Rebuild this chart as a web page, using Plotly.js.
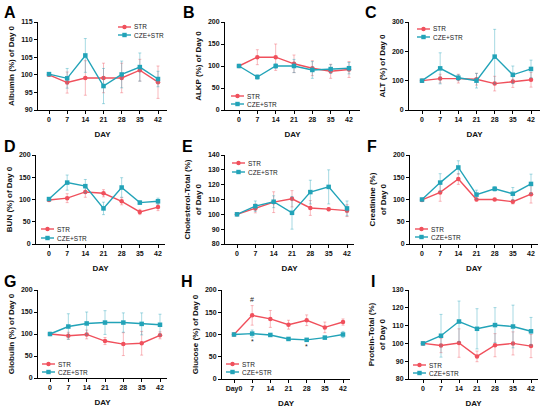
<!DOCTYPE html>
<html>
<head>
<meta charset="utf-8">
<script src="https://cdn.plot.ly/plotly-3.0.1.min.js"></script>
<style>html,body{margin:0;padding:0;background:#fff;}#chart{width:550px;height:408px;}</style>
</head>
<body>
<div id="chart"></div>
<script>
// ---------- data ----------
const days = [0, 7, 14, 21, 28, 35, 42];
const dayTickText = ['0', '7', '14', '21', '28', '35', '42'];
const glucoseTickText = ['Day0', '7', '14', '21', '28', '35', '42'];
const seriesNames = ['STR', 'CZE+STR'];

const albuminSTR = [100, 97.8, 99.1, 99.1, 99.1, 101.3, 97.9];
const albuminSTRErr = [0.3, 3.0, 4.9, 4.2, 4.2, 3.1, 4.6];
const albuminCZE = [100.2, 99.0, 105.5, 96.8, 100.1, 102.2, 98.8];
const albuminCZEErr = [0.3, 2.8, 4.8, 5.0, 3.8, 4.0, 2.2];

const alkpSTR = [100, 120, 120, 105, 95, 88, 92];
const alkpSTRErr = [1, 17, 30, 20, 17, 16, 18];
const alkpCZE = [100, 75, 100, 100, 91, 93, 95];
const alkpCZEErr = [1, 5, 5, 15, 19, 10, 13];

const altSTR = [100, 107, 107, 105, 90, 97, 103];
const altSTRErr = [3, 15, 15, 20, 25, 20, 25];
const altCZE = [100, 142, 110, 100, 182, 120, 140];
const altCZEErr = [3, 53, 10, 25, 93, 30, 30];

const bunSTR = [99, 103, 117, 114, 96, 72, 83];
const bunSTRErr = [2, 10, 12, 8, 8, 6, 8];
const bunCZE = [101, 138, 130, 80, 127, 93, 96];
const bunCZEErr = [2, 17, 15, 14, 22, 4, 7];

const cholSTR = [100, 104, 108.2, 110.5, 104.3, 103.5, 102.5];
const cholSTRErr = [0.5, 3, 7, 5.5, 5, 1, 4];
const cholCZE = [100, 105.5, 108.5, 101, 115, 118.5, 104];
const cholCZEErr = [0.5, 3.5, 4, 11, 8, 11.5, 5];

const creatSTR = [99, 116, 146, 100, 100, 95, 112];
const creatSTRErr = [2, 20, 12, 3, 2, 5, 20];
const creatCZE = [100, 138, 172, 111, 124, 113, 135];
const creatCZEErr = [2, 20, 15, 10, 5, 14, 22];

const globSTR = [100, 96, 99, 84, 77, 79, 97];
const globSTRErr = [2, 8, 10, 8, 26, 27, 8];
const globCZE = [100, 117, 124, 126, 126, 123, 121];
const globCZEErr = [2, 29, 26, 27, 22, 25, 24];

const glucSTR = [100, 143, 135, 122, 132, 116, 128];
const glucSTRErr = [2, 22, 19, 10, 12, 12, 7];
const glucCZE = [100, 102, 99, 90, 88, 93, 100];
const glucCZEErr = [2, 8, 3, 3, 3, 3, 7];

const protSTR = [100, 98.8, 100.2, 92.7, 99, 100, 98.5];
const protSTRErr = [0.5, 4, 8, 3, 6.5, 6.5, 6.5];
const protCZE = [100, 104.3, 112.3, 108.2, 110.3, 109.5, 106.8];
const protCZEErr = [0.5, 12, 11.5, 11.3, 9.8, 12, 7.8];

// significance marks in panel H
const glucMarkDays = [7, 7, 28];
const glucMarkValues = [178, 84, 72];
const glucMarkText = ['#', '*', '*'];

// ---------- style / layout ----------
const W = 550, H = 408;
const FONT = 'Liberation Sans, Arial, sans-serif';
const RED = '#F0505C', TEAL = '#22A3B8';
const RED_ERR = 'rgba(240,80,92,0.4)', TEAL_ERR = 'rgba(34,163,184,0.4)';
const px = p => p / W;
const py = p => 1 - p / H;

// box: [axisLeft, axisRight, tick0px, tick42px, topPx, bottomPx]
const panels = [
  {letter:'A', lp:[10,12], s:albuminSTR, se:albuminSTRErr, c:albuminCZE, ce:albuminCZEErr, box:[38,167,49,158,22,110], yr:[90,115], dt:5, yt:'Albumin (%) of Day 0', tt:dayTickText, leg:[118,27,35]},
  {letter:'B', lp:[189,12], s:alkpSTR, se:alkpSTRErr, c:alkpCZE, ce:alkpCZEErr, box:[225,360,239,349,22,110], yr:[0,200], dt:50, yt:'ALKP (%) of Day 0', tt:dayTickText, leg:[231,96,104]},
  {letter:'C', lp:[371,12], s:altSTR, se:altSTRErr, c:altCZE, ce:altCZEErr, box:[409,540,422,531,22,110], yr:[0,300], dt:100, yt:'ALT (%) of Day 0', tt:dayTickText, leg:[417,29,37]},
  {letter:'D', lp:[10,146], s:bunSTR, se:bunSTRErr, c:bunCZE, ce:bunCZEErr, box:[36,165,49,158,155,244], yr:[0,200], dt:50, yt:'BUN (%) of Day 0', tt:dayTickText, leg:[41,229,238]},
  {letter:'E', lp:[187,146], s:cholSTR, se:cholSTRErr, c:cholCZE, ce:cholCZEErr, box:[225,354,237,347,155,244], yr:[80,140], dt:10, yt:'Cholesterol-Total (%)<br>of Day 0', tt:dayTickText, leg:[232,163,172]},
  {letter:'F', lp:[372,146], s:creatSTR, se:creatSTRErr, c:creatCZE, ce:creatCZEErr, box:[410,538,422,531,155,244], yr:[0,200], dt:50, yt:'Creatinine (%)<br>of Day 0', tt:dayTickText, leg:[415,229,237]},
  {letter:'G', lp:[10,281], s:globSTR, se:globSTRErr, c:globCZE, ce:globCZEErr, box:[38,167,50,160,290,378], yr:[0,200], dt:50, yt:'Globulin (%) of Day 0', tt:dayTickText, leg:[42,364,372]},
  {letter:'H', lp:[187,281], s:glucSTR, se:glucSTRErr, c:glucCZE, ce:glucCZEErr, box:[222,350,234,343,290,379], yr:[0,200], dt:50, yt:'Glucose (%) of Day 0', tt:glucoseTickText, leg:[226,364,372]},
  {letter:'I', lp:[373,281], s:protSTR, se:protSTRErr, c:protCZE, ce:protCZEErr, box:[409,538,423,531,290,379], yr:[80,130], dt:10, yt:'Protein-Total (%)<br>of Day 0', tt:dayTickText, leg:[413,365,373]}
];

const traces = [];
const layout = {
  width: W, height: H,
  margin: {l:0, r:0, t:0, b:0},
  paper_bgcolor: '#fff', plot_bgcolor: '#fff',
  showlegend: false,
  font: {family: FONT, color: '#111'},
  annotations: [], shapes: []
};

panels.forEach((p, i) => {
  const n = i + 1;
  const sfx = n === 1 ? '' : String(n);
  const [L, R, t0, t42, T, B] = p.box;
  const u = (t42 - t0) / 42;
  const xr = [-(t0 - L) / u, 42 + (R - t42) / u];

  layout['xaxis' + sfx] = {
    domain: [px(L), px(R)], anchor: 'y' + sfx, range: xr,
    tickvals: days, ticktext: p.tt,
    showline: true, linecolor: '#000', linewidth: 1,
    ticks: 'outside', ticklen: 3, tickwidth: 1, tickcolor: '#000',
    showgrid: false, zeroline: false,
    tickfont: {size: 7, family: FONT, weight: 'bold', color: '#111'},
    title: {text: 'DAY', font: {size: 8, family: FONT, weight: 'bold', color: '#111'}, standoff: 8}
  };
  layout['yaxis' + sfx] = {
    domain: [py(B), py(T)], anchor: 'x' + sfx, range: p.yr, dtick: p.dt, tick0: p.yr[0],
    showline: true, linecolor: '#000', linewidth: 1,
    ticks: 'outside', ticklen: 3, tickwidth: 1, tickcolor: '#000',
    showgrid: false, zeroline: false,
    tickfont: {size: 7, family: FONT, weight: 'bold', color: '#111'},
    title: {text: p.yt, font: {size: 8, family: FONT, weight: 'bold', color: '#111'}, standoff: 5}
  };

  const series = [
    {y: p.s, e: p.se, col: RED, ecol: RED_ERR, sym: 'circle', name: seriesNames[0]},
    {y: p.c, e: p.ce, col: TEAL, ecol: TEAL_ERR, sym: 'square', name: seriesNames[1]}
  ];
  series.forEach(s => {
    traces.push({
      type: 'scatter', mode: 'lines+markers', x: days, y: s.y, name: s.name,
      xaxis: 'x' + sfx, yaxis: 'y' + sfx, cliponaxis: false,
      line: {color: s.col, width: 1.4},
      marker: {color: s.col, size: 4.5, symbol: s.sym},
      error_y: {type: 'data', array: s.e, visible: true, color: s.ecol, thickness: 1, width: 1.5}
    });
  });

  // panel letter
  layout.annotations.push({
    xref: 'paper', yref: 'paper', x: px(p.lp[0]), y: py(p.lp[1]),
    text: p.letter, showarrow: false, xanchor: 'center', yanchor: 'middle',
    font: {size: 16, family: FONT, weight: 'bold', color: '#000'}
  });

  // legend (drawn as small key)
  const [sx, y1, y2] = p.leg;
  [[y1, series[0]], [y2, series[1]]].forEach(([yy, s]) => {
    layout.shapes.push({type: 'line', xref: 'paper', yref: 'paper',
      x0: px(sx), x1: px(sx + 13), y0: py(yy), y1: py(yy), line: {color: s.col, width: 1.4}});
    layout.shapes.push({type: s.sym === 'circle' ? 'circle' : 'rect', xref: 'paper', yref: 'paper',
      xsizemode: 'pixel', ysizemode: 'pixel', xanchor: px(sx + 6.5), yanchor: py(yy),
      x0: -2.2, x1: 2.2, y0: -2.2, y1: 2.2, fillcolor: s.col, line: {width: 0}});
    layout.annotations.push({xref: 'paper', yref: 'paper', x: px(sx + 15), y: py(yy),
      text: s.name, showarrow: false, xanchor: 'left', yanchor: 'middle',
      borderpad: 0, font: {size: 6.5, family: FONT, color: '#222'}});
  });
});

// significance marks in H (8th panel)
glucMarkDays.forEach((d, k) => {
  layout.annotations.push({xref: 'x8', yref: 'y8', x: d, y: glucMarkValues[k],
    text: glucMarkText[k], showarrow: false, xanchor: 'center', yanchor: 'middle',
    font: {size: 7, family: FONT, color: '#222'}});
});

Plotly.newPlot('chart', traces, layout, {staticPlot: true, displayModeBar: false});
</script>
</body>
</html>
